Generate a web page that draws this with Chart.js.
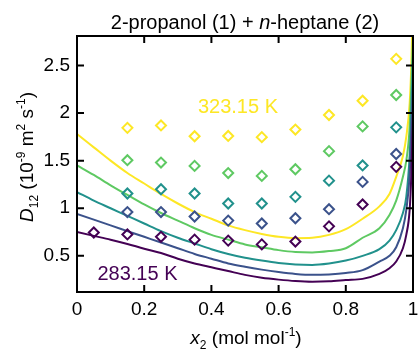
<!DOCTYPE html>
<html>
<head>
<meta charset="utf-8">
<script src="https://cdn.jsdelivr.net/npm/chart.js@4.4.1/dist/chart.umd.min.js"></script>
<style>
html,body{margin:0;padding:0;background:#fff;}
#wrap{width:420px;height:354px;position:relative;}
</style>
</head>
<body>
<div id="wrap"><canvas id="c" width="420" height="354"></canvas></div>
<script>
// ---- data ----
const temperatures = ['283.15 K', '293.15 K', '303.15 K', '313.15 K', '323.15 K'];
const colors = ['#440154', '#3b528b', '#21918c', '#5ec962', '#fde725'];

// model curves (x2, D12)
const xCurve = [0, 0.05, 0.1, 0.15, 0.2, 0.25, 0.3, 0.35, 0.4, 0.45, 0.5, 0.55, 0.6, 0.65, 0.7, 0.75, 0.8, 0.85, 0.9, 0.93, 0.95, 0.97, 0.98, 0.99, 0.995, 1.0];
const curve283 = [0.75, 0.71, 0.67, 0.625, 0.575, 0.53, 0.47, 0.42, 0.38, 0.34, 0.30, 0.27, 0.25, 0.235, 0.228, 0.232, 0.245, 0.258, 0.31, 0.37, 0.44, 0.58, 0.72, 0.98, 1.35, 2.0];
const curve293 = [0.94, 0.88, 0.82, 0.76, 0.70, 0.64, 0.58, 0.52, 0.47, 0.42, 0.385, 0.355, 0.33, 0.31, 0.30, 0.305, 0.32, 0.35, 0.44, 0.50, 0.59, 0.79, 0.98, 1.35, 1.8, 2.3];
const curve303 = [1.17, 1.08, 1.0, 0.92, 0.84, 0.76, 0.69, 0.63, 0.57, 0.52, 0.48, 0.45, 0.425, 0.41, 0.405, 0.42, 0.45, 0.50, 0.57, 0.66, 0.77, 0.95, 1.12, 1.55, 2.0, 2.6];
const curve313 = [1.45, 1.35, 1.24, 1.14, 1.04, 0.95, 0.87, 0.79, 0.72, 0.67, 0.62, 0.59, 0.56, 0.54, 0.535, 0.55, 0.58, 0.69, 0.79, 0.93, 1.08, 1.33, 1.5, 1.85, 2.3, 2.8];
const curve323 = [1.78, 1.64, 1.50, 1.37, 1.26, 1.15, 1.05, 0.96, 0.89, 0.82, 0.77, 0.73, 0.70, 0.686, 0.69, 0.72, 0.78, 0.89, 1.02, 1.15, 1.33, 1.55, 1.75, 2.1, 2.5, 3.2];

// measured points (x2, D12)
const xPoints283 = [0.05, 0.15, 0.25, 0.35, 0.45, 0.55, 0.65, 0.75, 0.85, 0.95];
const xPoints = [0.15, 0.25, 0.35, 0.45, 0.55, 0.65, 0.75, 0.85, 0.95];
const points283 = [0.745, 0.725, 0.70, 0.67, 0.66, 0.62, 0.65, 0.81, 1.04, 1.435];
const points293 = [0.96, 0.96, 0.913, 0.87, 0.84, 0.895, 0.99, 1.277, 1.57];
const points303 = [1.155, 1.20, 1.155, 1.05, 1.05, 1.12, 1.29, 1.45, 1.85];
const points313 = [1.505, 1.48, 1.445, 1.37, 1.34, 1.41, 1.60, 1.86, 2.19];
const points323 = [1.845, 1.87, 1.757, 1.76, 1.747, 1.827, 1.98, 2.13, 2.57];

const xTicks = [0, 0.2, 0.4, 0.6, 0.8, 1];
const yTicks = [0.5, 1, 1.5, 2, 2.5];
const xRange = [0, 1];
const yRange = [0.12, 2.81];

// temperature labels: [text, x2 (centre), D12 (baseline), colour index]
const tempLabels = [['323.15 K', 0.479, 2.0, 4], ['283.15 K', 0.18, 0.25, 0]];

const curves = [curve283, curve293, curve303, curve313, curve323];
const pts = [points283, points293, points303, points313, points323];
const ptsX = [xPoints283, xPoints, xPoints, xPoints, xPoints];

const FONT = '"Liberation Sans", Arial, sans-serif';
const datasets = [];
curves.forEach((c, i) => {
  datasets.push({
    label: temperatures[i] + ' model',
    data: xCurve.map((x, k) => ({x: x, y: c[k]})),
    showLine: true,
    borderColor: colors[i],
    borderWidth: 2,
    pointRadius: 0,
    cubicInterpolationMode: 'monotone',
    fill: false,
    order: 2
  });
});
pts.forEach((p, i) => {
  datasets.push({
    label: temperatures[i],
    data: ptsX[i].map((x, k) => ({x: x, y: p[k]})),
    showLine: false,
    pointStyle: 'rectRot',
    pointRadius: 5,
    pointBorderWidth: 2,
    pointBackgroundColor: 'rgba(0,0,0,0)',
    pointBorderColor: colors[i],
    order: 1
  });
});

function drawRich(ctx, parts, x, y, align, size) {
  const fontFor = (s) => {
    if (s === 'i') return 'italic ' + size + 'px ' + FONT;
    if (s === 'sub' || s === 'sup') return Math.round(size * 0.65) + 'px ' + FONT;
    return size + 'px ' + FONT;
  };
  let total = 0;
  parts.forEach(p => { ctx.font = fontFor(p[1]); total += ctx.measureText(p[0]).width; });
  let cx = align === 'center' ? x - total / 2 : x;
  parts.forEach(p => {
    ctx.font = fontFor(p[1]);
    let dy = 0;
    if (p[1] === 'sub') dy = size * 0.25;
    if (p[1] === 'sup') dy = -size * 0.4;
    ctx.fillText(p[0], cx, y + dy);
    cx += ctx.measureText(p[0]).width;
  });
}

const decor = {
  id: 'decor',
  afterDraw(chart) {
    const ctx = chart.ctx;
    const a = chart.chartArea;
    const xs = chart.scales.x, ys = chart.scales.y;
    ctx.save();
    ctx.strokeStyle = '#000';
    ctx.lineWidth = 2;
    ctx.strokeRect(a.left, a.top, a.right - a.left, a.bottom - a.top);
    const tl = 7;
    ctx.beginPath();
    xTicks.forEach(v => {
      const px = xs.getPixelForValue(v);
      ctx.moveTo(px, a.bottom); ctx.lineTo(px, a.bottom - tl);
      ctx.moveTo(px, a.top); ctx.lineTo(px, a.top + tl);
    });
    yTicks.forEach(v => {
      const py = ys.getPixelForValue(v);
      ctx.moveTo(a.left, py); ctx.lineTo(a.left + tl, py);
      ctx.moveTo(a.right, py); ctx.lineTo(a.right - tl, py);
    });
    ctx.stroke();

    ctx.fillStyle = '#000';
    ctx.textBaseline = 'alphabetic';
    ctx.textAlign = 'left';
    drawRich(ctx, [['2-propanol (1) + ', 'n'], ['n', 'i'], ['-heptane (2)', 'n']], (a.left + a.right) / 2, 29, 'center', 20);
    drawRich(ctx, [['x', 'i'], ['2', 'sub'], [' (mol mol', 'n'], ['-1', 'sup'], [')', 'n']], (a.left + a.right) / 2 + 1, 344, 'center', 19);
    ctx.save();
    ctx.translate(33, (a.top + a.bottom) / 2 - 7);
    ctx.rotate(-Math.PI / 2);
    drawRich(ctx, [['D', 'i'], ['12', 'sub'], [' (10', 'n'], ['-9', 'sup'], [' m', 'n'], ['2', 'sup'], [' s', 'n'], ['-1', 'sup'], [')', 'n']], 0, 0, 'center', 19);
    ctx.restore();

    tempLabels.forEach(t => {
      ctx.fillStyle = colors[t[3]];
      ctx.font = '20px ' + FONT;
      ctx.textAlign = 'center';
      ctx.textBaseline = 'alphabetic';
      ctx.fillText(t[0], xs.getPixelForValue(t[1]), ys.getPixelForValue(t[2]));
    });
    ctx.restore();
  }
};

new Chart(document.getElementById('c'), {
  type: 'scatter',
  data: {datasets: datasets},
  options: {
    responsive: false,
    animation: false,
    events: [],
    layout: {padding: {left: 0, right: 3, top: 36, bottom: 0}},
    plugins: {legend: {display: false}, tooltip: {enabled: false}, title: {display: false}},
    scales: {
      x: {
        type: 'linear', min: xRange[0], max: xRange[1],
        grid: {display: false, drawTicks: false}, border: {display: false},
        afterBuildTicks: (s) => { s.ticks = xTicks.map(v => ({value: v})); },
        afterFit: (s) => { s.height = 62; s.paddingLeft = 0; s.paddingRight = 0; },
        ticks: {font: {family: FONT, size: 19}, color: '#000', padding: 6, maxRotation: 0,
                callback: (v) => String(v)}
      },
      y: {
        type: 'linear', min: yRange[0], max: yRange[1],
        grid: {display: false, drawTicks: false}, border: {display: false},
        afterBuildTicks: (s) => { s.ticks = yTicks.map(v => ({value: v})); },
        afterFit: (s) => { s.width = 77; s.paddingTop = 0; s.paddingBottom = 0; },
        ticks: {font: {family: FONT, size: 19}, color: '#000', padding: 7,
                callback: (v) => String(v)}
      }
    }
  },
  plugins: [decor]
});
</script>
</body>
</html>
